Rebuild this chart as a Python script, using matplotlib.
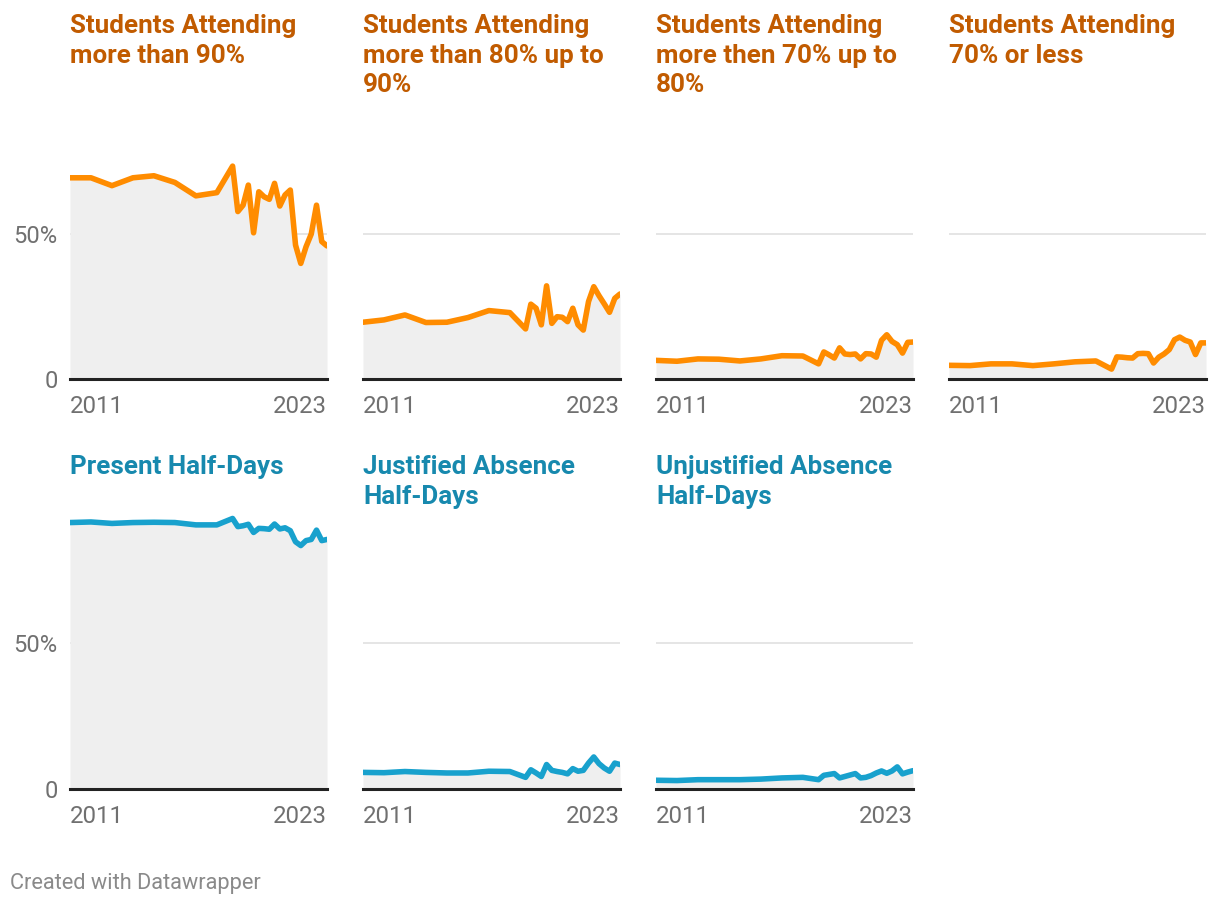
import matplotlib
matplotlib.use("Agg")
import matplotlib.pyplot as plt

plt.rcParams["font.family"] = ["Roboto", "DejaVu Sans"]

# time axis: yearly to 2018, then quarterly points
periods = [2011, 2012, 2013, 2014, 2015, 2016, 2017, 2018,
           2018.75, 2019.0, 2019.25, 2019.5, 2019.75, 2020.0, 2020.25, 2020.5,
           2020.75, 2021.0, 2021.25, 2021.5, 2021.75, 2022.0, 2022.25, 2022.5,
           2022.75, 2023.0, 2023.25]

over_90 = [69.2, 69.2, 66.5, 69.2, 69.9, 67.6, 63.0, 64.1,
           73.2, 57.6, 59.8, 66.7, 50.3, 64.4, 62.7, 61.8, 67.3, 59.5, 63.3,
           65.0, 46.1, 39.8, 45.5, 49.9, 59.8, 47.3, 45.8]
from_80_to_90 = [19.6, 20.4, 22.1, 19.5, 19.6, 21.2, 23.6, 22.9,
                 17.3, 25.8, 24.4, 18.7, 32.1, 19.2, 21.5, 21.3, 19.8, 24.4, 18.7,
                 16.9, 26.7, 31.8, 28.7, 25.9, 23.0, 27.8, 29.3]
from_70_to_80 = [6.5, 6.2, 7.0, 6.9, 6.3, 7.0, 8.1, 8.0,
                 5.3, 9.4, 8.4, 7.3, 10.8, 8.7, 8.5, 8.7, 7.0, 8.8, 8.7,
                 7.6, 13.4, 15.3, 13.0, 11.9, 9.0, 12.7, 12.8]
under_70 = [4.8, 4.7, 5.3, 5.3, 4.7, 5.3, 6.0, 6.3,
            3.5, 7.7, 7.6, 7.4, 7.3, 8.8, 8.9, 8.8, 5.6, 7.6, 8.7,
            10.2, 13.6, 14.5, 13.4, 12.8, 8.5, 12.5, 12.5]
present = [91.5, 91.7, 91.2, 91.5, 91.6, 91.5, 90.7, 90.7,
           92.9, 90.1, 90.4, 90.9, 88.1, 89.5, 89.4, 89.2, 91.0, 89.3, 89.7,
           88.7, 84.9, 83.6, 85.3, 85.7, 88.9, 85.3, 85.7]
justified = [5.7, 5.6, 6.0, 5.7, 5.5, 5.5, 6.1, 6.0,
             4.0, 6.6, 5.5, 4.3, 8.4, 6.4, 6.0, 5.7, 5.2, 7.0, 6.1,
             6.4, 8.9, 11.0, 8.7, 7.2, 6.1, 8.9, 8.4]
unjustified = [3.0, 2.9, 3.2, 3.2, 3.2, 3.4, 3.8, 4.0,
               3.2, 4.7, 5.0, 5.3, 3.8, 4.3, 4.8, 5.3, 3.8, 4.0, 4.6,
               5.5, 6.2, 5.4, 6.2, 7.6, 5.2, 5.8, 6.3]

titles = ["Students Attending\nmore than 90%",
          "Students Attending\nmore than 80% up to\n90%",
          "Students Attending\nmore then 70% up to\n80%",
          "Students Attending\n70% or less",
          "Present Half-Days",
          "Justified Absence\nHalf-Days",
          "Unjustified Absence\nHalf-Days"]
series = [over_90, from_80_to_90, from_70_to_80, under_70,
          present, justified, unjustified]

ORANGE, ORANGE_TXT = "#ff8c00", "#c15b00"
BLUE, BLUE_TXT = "#18a1cd", "#1789ae"

W, H = 1220, 906
PX_PER_PCT = 2.912
fig = plt.figure(figsize=(W / 100, H / 100), dpi=100)

col_left = [70, 363, 656, 949]
panel_w = 257
row_base = [379.3, 789.0]
row_top = [80, 95]          # ylim top for each row
title_top = [14, 455]

for i, (vals, title) in enumerate(zip(series, titles)):
    row, col = divmod(i, 4)
    ymax = row_top[row]
    h = ymax * PX_PER_PCT
    left = col_left[col]
    bottom = H - row_base[row]
    ax = fig.add_axes([left / W, bottom / H, panel_w / W, h / H])
    line_c = ORANGE if row == 0 else BLUE
    txt_c = ORANGE_TXT if row == 0 else BLUE_TXT

    ax.fill_between(periods, 0, vals, color="#efefef", lw=0, zorder=1)
    ax.axhline(50, color="#e0e0e0", lw=1.2, zorder=0)
    ax.plot(periods, vals, color=line_c, lw=4.0, solid_joinstyle="round",
            solid_capstyle="round", zorder=3)
    ax.axhline(0, color="#222222", lw=2.2, zorder=4, clip_on=False)

    ax.set_xlim(periods[0], periods[-1])
    ax.set_ylim(0, ymax)
    for s in ax.spines.values():
        s.set_visible(False)
    ax.set_facecolor("none")

    ax.set_xticks([periods[0], periods[-1]])
    ax.set_xticklabels(["2011", "2023"], fontsize=17.3, color="#707070")
    xl = ax.get_xticklabels()
    xl[0].set_ha("left")
    xl[1].set_ha("right")
    ax.tick_params(axis="x", length=0, pad=11.5)

    if col == 0:
        ax.set_yticks([0, 50])
        ax.set_yticklabels(["0", "50%"], fontsize=17, color="#707070")
        ax.tick_params(axis="y", length=0, pad=9)
    else:
        ax.set_yticks([])

    fig.text(left / W, 1 - title_top[row] / H, title, ha="left", va="top",
             fontsize=18.7, fontweight="bold", color=txt_c, linespacing=1.3)

fig.text(10 / W, 1 - 884 / H, "Created with Datawrapper", ha="left",
         va="center", fontsize=15.7, color="#8a8a8a")

fig.savefig("out.png", dpi=100)
